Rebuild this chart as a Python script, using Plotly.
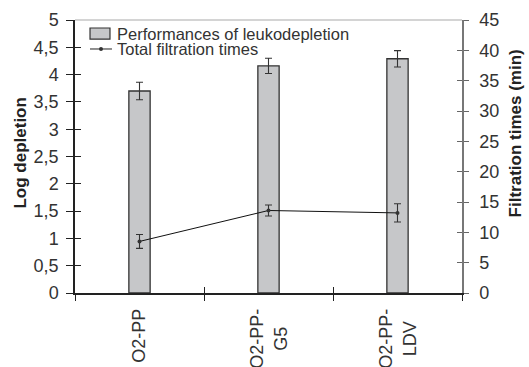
import plotly.graph_objects as go

# Filters compared
categories = ["O2-PP", "O2-PP-<br>G5", "O2-PP-<br>LDV"]

# Leukodepletion performance (log depletion) with standard deviations
log_depletion = [3.70, 4.16, 4.29]
log_depletion_sd = [0.16, 0.14, 0.15]

# Total filtration times (min) with standard deviations
filtration_time = [8.5, 13.6, 13.2]
filtration_time_sd = [1.15, 0.9, 1.5]

x_pos = list(range(len(categories)))

FONT = "Liberation Sans, Arial, sans-serif"
DARK = "#222222"

fig = go.Figure()

fig.add_trace(go.Bar(
    x=x_pos, y=log_depletion, width=0.165,
    marker=dict(color="#c6c7c9", line=dict(color="#333333", width=1.3)),
    error_y=dict(type="data", array=log_depletion_sd, color="#333333",
                 thickness=1.1, width=3.5),
    name="Performances of leukodepletion", showlegend=False,
))

fig.add_trace(go.Scatter(
    x=x_pos, y=filtration_time, yaxis="y2", mode="lines+markers",
    line=dict(color="#111111", width=1),
    marker=dict(color="#333333", size=4),
    error_y=dict(type="data", array=filtration_time_sd, color="#333333",
                 thickness=1.1, width=3.5),
    name="Total filtration times", showlegend=False,
))

tick_font = dict(family=FONT, size=18, color="#333333")

fig.update_layout(
    width=529, height=367,
    margin=dict(l=75, r=67, t=20, b=74, autoexpand=False),
    paper_bgcolor="white", plot_bgcolor="white",
    separators=",.",
    font=dict(family=FONT),
    xaxis=dict(
        range=[-0.5, 2.5], tickvals=[-0.5, 0.5, 1.5, 2.5], showticklabels=False,
        ticks="outside", ticklen=6, tickwidth=1.3, tickcolor=DARK,
        showline=True, linecolor=DARK, linewidth=1.5, showgrid=False,
        zeroline=False, fixedrange=True,
    ),
    xaxis2=dict(
        overlaying="x", range=[-0.5, 2.5], tickvals=[-0.5, 0.5, 1.5, 2.5],
        showticklabels=False, ticks="inside", ticklen=6, tickwidth=1.3,
        tickcolor=DARK, showline=False, showgrid=False, zeroline=False,
    ),
    yaxis=dict(
        range=[0, 5], dtick=0.5, tick0=0, ticks="outside", ticklen=7,
        tickwidth=1.3, tickcolor=DARK, tickfont=tick_font,
        ticklabelstandoff=4,
        showline=True, linecolor=DARK, linewidth=1.5, showgrid=False,
        zeroline=False,
    ),
    yaxis3=dict(
        overlaying="y", range=[0, 5], dtick=0.5, tick0=0, ticks="inside",
        ticklen=6, tickwidth=1.3, tickcolor=DARK, showticklabels=False,
        showline=False, showgrid=False, zeroline=False,
    ),
    yaxis2=dict(
        overlaying="y", side="right", range=[0, 45], dtick=5, tick0=0,
        ticks="outside", ticklen=5, tickwidth=1.3, tickcolor="#666666",
        tickfont=tick_font, ticklabelstandoff=7,
        showline=True, linecolor="#777777", linewidth=1.5, showgrid=False,
        zeroline=False,
    ),
    yaxis4=dict(
        overlaying="y", side="right", range=[0, 45], dtick=5, tick0=0,
        ticks="inside", ticklen=5, tickwidth=1.3, tickcolor="#666666",
        showticklabels=False, showline=False, showgrid=False, zeroline=False,
    ),
    showlegend=False,
)

# Empty traces so the overlay tick axes get drawn
fig.add_trace(go.Scatter(x=[None], y=[None], xaxis="x2", yaxis="y3",
                         showlegend=False, hoverinfo="skip"))
fig.add_trace(go.Scatter(x=[None], y=[None], xaxis="x2", yaxis="y4",
                         showlegend=False, hoverinfo="skip"))

# Light frame line along the top of the plot area
fig.add_shape(type="line", xref="paper", yref="paper", x0=0, x1=1, y0=1, y1=1,
              line=dict(color="#aaaaaa", width=1.2))

# Category labels, rotated under the axis
for xi, label in zip(x_pos, categories):
    fig.add_annotation(
        x=xi, xref="x", y=-0.052, yref="paper", text=label, textangle=-90,
        xanchor="center", yanchor="top", align="center", showarrow=False,
        font=dict(family=FONT, size=18, color="#333333"),
    )

# Axis titles
fig.add_annotation(
    x=-0.142, y=0.511, xref="paper", yref="paper", text="<b>Log depletion</b>",
    textangle=-90, showarrow=False, xanchor="center", yanchor="middle",
    font=dict(family=FONT, size=17, color="#222222"),
)
fig.add_annotation(
    x=1.138, y=0.586, xref="paper", yref="paper",
    text="<b>Filtration times (min)</b>",
    textangle=-90, showarrow=False, xanchor="center", yanchor="middle",
    font=dict(family=FONT, size=17, color="#222222"),
)

# Legend keys and entries
fig.add_shape(type="rect", xref="paper", yref="paper",
              x0=0.0388, x1=0.0904, y0=0.930, y1=0.9707,
              fillcolor="#c6c7c9", line=dict(color="#333333", width=1.2))
fig.add_shape(type="line", xref="paper", yref="paper",
              x0=0.0388, x1=0.0956, y0=0.8938, y1=0.8938,
              line=dict(color="#222222", width=1))
fig.add_shape(type="circle", xref="paper", yref="paper",
              x0=0.0620, x1=0.0724, y0=0.8864, y1=0.9011,
              fillcolor="#333333", line=dict(color="#333333", width=0))
legend_entries = ["Performances of leukodepletion", "Total filtration times"]
for yy, txt in zip([0.9487, 0.8938], legend_entries):
    fig.add_annotation(
        x=0.1034, y=yy, xref="paper", yref="paper", text=txt, showarrow=False,
        xanchor="left", yanchor="middle",
        font=dict(family=FONT, size=16.5, color="#333333"),
    )

fig.write_html("out.html")
